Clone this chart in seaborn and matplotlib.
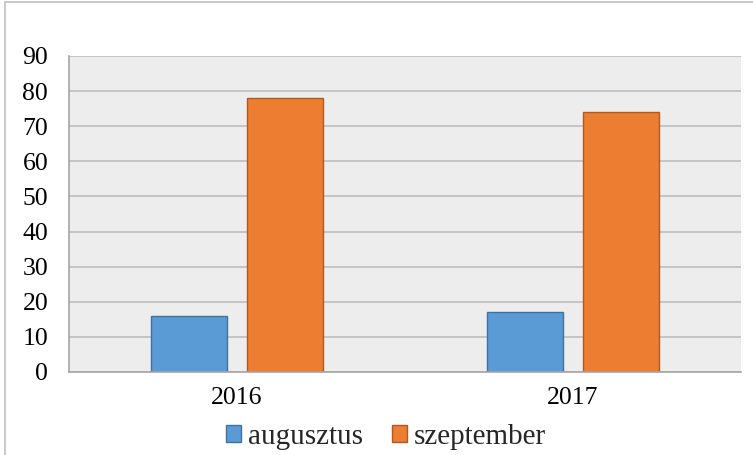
import pandas as pd
import matplotlib.pyplot as plt
import seaborn as sns
from matplotlib.patches import Rectangle

# --- DATA ---
years = ['2016', '2017']
augusztus = [16, 17]
szeptember = [78, 74]
series_names = ['augusztus', 'szeptember']
y_ticks = [0, 10, 20, 30, 40, 50, 60, 70, 80, 90]

colors = ['#5B9BD5', '#ED7D31']
edges = ['#41719C', '#AE5A21']

df = pd.DataFrame({
    'Year': years * 2,
    'Month': [series_names[0]] * 2 + [series_names[1]] * 2,
    'Value': augusztus + szeptember,
})

sns.set_style('white')
plt.rcParams['font.family'] = ['Liberation Serif', 'DejaVu Serif']

fig = plt.figure(figsize=(7.53, 4.55), dpi=100)
ax = fig.add_axes([69 / 753, 1 - 372 / 455, 672 / 753, 316 / 455])

sns.barplot(data=df, x='Year', y='Value', hue='Month', palette=colors,
            width=0.571, gap=0.21, ax=ax, legend=False, saturation=1)

for bar_group, ec in zip(ax.containers, edges):
    for bar in bar_group:
        bar.set_edgecolor(ec)
        bar.set_linewidth(1.0)

ax.set_facecolor('#EDEDED')
ax.set_ylim(0, 90)
ax.set_yticks(y_ticks)
ax.yaxis.grid(True, color='#BDBDBD', linewidth=1.2)
ax.set_axisbelow(True)
ax.set_xlabel('')
ax.set_ylabel('')
for side in ['top', 'right']:
    ax.spines[side].set_visible(False)
for side in ['left', 'bottom']:
    ax.spines[side].set_color('#A6A6A6')
    ax.spines[side].set_linewidth(1.2)
ax.tick_params(axis='both', length=0, labelsize=18.5, colors='black')
ax.tick_params(axis='x', pad=11)
ax.tick_params(axis='y', pad=15)

handles = [Rectangle((0, 0), 1, 1, facecolor=c, edgecolor=e) for c, e in zip(colors, edges)]
fig.legend(handles, series_names, loc='center', bbox_to_anchor=(386 / 753, 1 - 437 / 455),
           ncol=2, frameon=False, fontsize=21, handlelength=0.5, handleheight=0.5,
           handletextpad=0.25, columnspacing=1.0, borderpad=0)

# outer chart border
fig.patches.append(Rectangle((5 / 753, -0.01), 1.5, 1 - 2 / 455 + 0.01, transform=fig.transFigure,
                             fill=False, edgecolor='#BFBFBF', linewidth=1.2))

fig.savefig('out.png', dpi=100)
